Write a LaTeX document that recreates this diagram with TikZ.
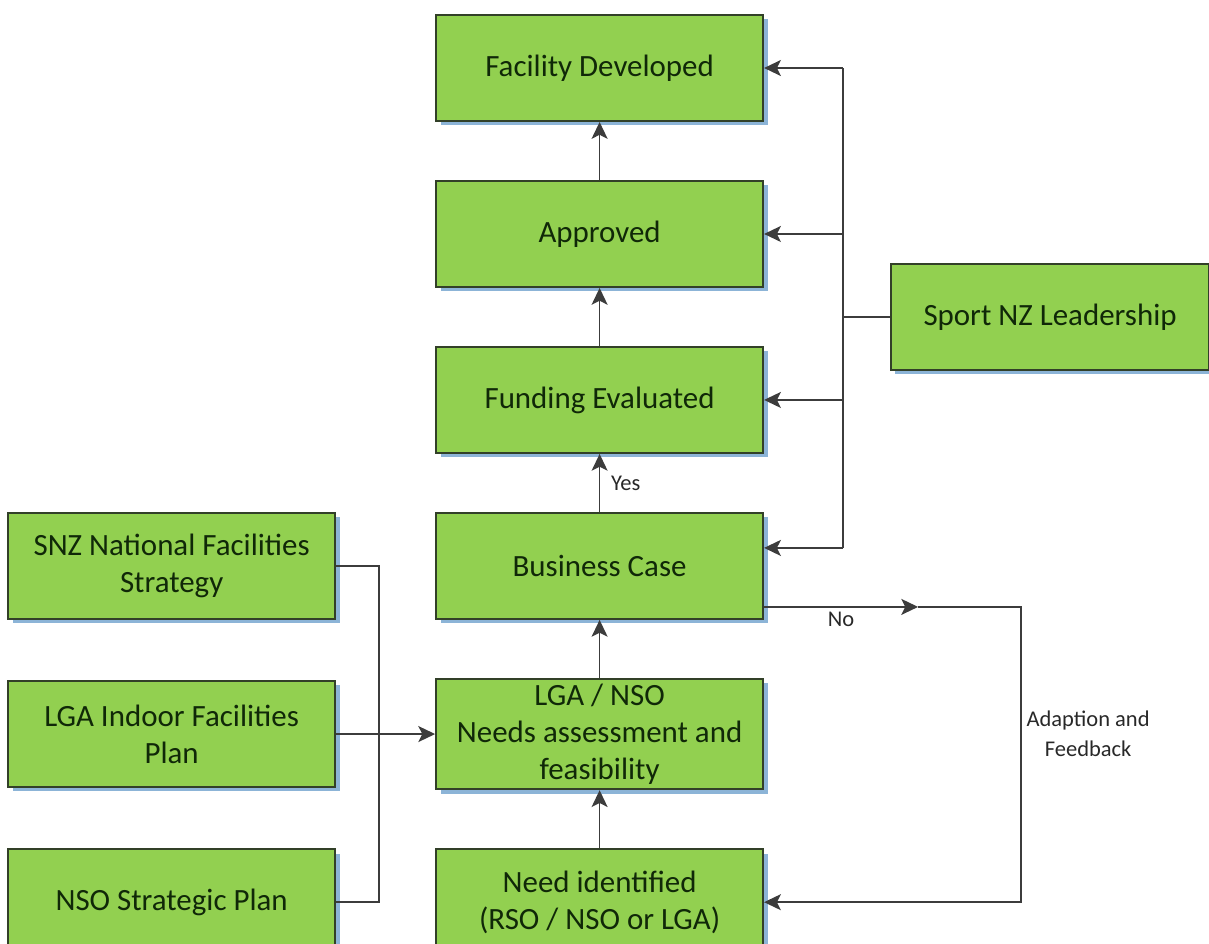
\documentclass[tikz,border=0pt]{standalone}
\usepackage{fontspec}
\setmainfont{Carlito}
\usetikzlibrary{shapes,arrows.meta,positioning,calc,shadows}

\definecolor{boxgreen}{RGB}{146,208,80}
\definecolor{boxline}{RGB}{50,64,40}
\definecolor{boxtext}{RGB}{16,40,8}
\definecolor{shadowblue}{RGB}{140,180,215}
\definecolor{linegray}{RGB}{60,60,60}
\definecolor{labelgray}{RGB}{40,40,40}

\begin{document}
\begin{tikzpicture}[
    node distance=1.45cm,
    stagebox/.style={rectangle, draw=boxline, line width=1.4pt, fill=boxgreen, text=boxtext, align=center, minimum width=8.175cm, minimum height=2.65cm, font=\fontsize{22}{26.5}\selectfont, drop shadow={shadow xshift=0.11cm, shadow yshift=-0.11cm, fill=shadowblue, opacity=1}},
    arrow/.style={-{Stealth[length=0.42cm, width=0.4cm, inset=0.1cm]}, line width=1.2pt, draw=linegray},
    line/.style={line width=1.2pt, draw=linegray},
    lbl/.style={font=\fontsize{16}{21}\selectfont, text=labelgray, align=center}
]
\useasboundingbox (0,0) rectangle (30.225,-23.575);

% Main column
\node[stagebox] (facility) at (14.99,-1.7) {Facility Developed};
\node[stagebox, below=of facility] (approved) {Approved};
\node[stagebox, below=of approved] (funding) {Funding Evaluated};
\node[stagebox, below=of funding] (bcase) {Business Case};
\node[stagebox, below=of bcase] (needs) {LGA / NSO\\Needs assessment and\\feasibility};
\node[stagebox, below=of needs] (needid) {Need identified\\(RSO / NSO or LGA)};

% Plans on the left
\node[stagebox, left=2.475cm of bcase] (snzplan) {SNZ National Facilities\\Strategy};
\node[stagebox, left=2.475cm of needs] (lgaplan) {LGA Indoor Facilities\\Plan};
\node[stagebox, left=2.475cm of needid] (nsoplan) {NSO Strategic Plan};

% Leadership
\node[stagebox, minimum width=7.95cm, anchor=west] (leader) at ($(approved.east)!0.5!(funding.east)+(3.15,0)$) {Sport NZ Leadership};

% Helper points
\coordinate (bustop) at ($(facility.east)+(1.975,0)$);
\coordinate (busbot) at ($(bcase.east)+(1.975,0.45)$);
\coordinate (nomid) at ($(bcase.east)+(3.85,-1.025)$);
\coordinate (fbcorner) at ($(bcase.east)+(6.425,-1.025)$);
\coordinate (planbus) at ($(snzplan.east)+(1.075,0)$);

% Column arrows
\draw[arrow] (needid) -- (needs);
\draw[arrow] (needs) -- (bcase);
\draw[arrow] (bcase) -- node[lbl, right, xshift=0.15cm] {Yes} (funding);
\draw[arrow] (funding) -- (approved);
\draw[arrow] (approved) -- (facility);

% Plans into needs assessment
\draw[line] (snzplan.east) -- (planbus) |- (nsoplan.east);
\draw[arrow] (lgaplan) -- (needs);

% Leadership bus
\draw[line] (bustop) -- (busbot);
\draw[line] (leader.west) -- (leader.west -| bustop);
\draw[arrow] (bustop) -- (facility.east);
\draw[arrow] (approved.east -| bustop) -- (approved.east);
\draw[arrow] (funding.east -| bustop) -- (funding.east);
\draw[arrow] (busbot) -- (busbot -| bcase.east);

% No branch
\draw[arrow] (nomid -| bcase.east) -- node[lbl, below] {No} (nomid);
\draw[arrow] (nomid) -- (fbcorner) |- node[lbl, right, pos=0.215] {Adaption and\\Feedback} (needid.east);

\end{tikzpicture}
\end{document}
